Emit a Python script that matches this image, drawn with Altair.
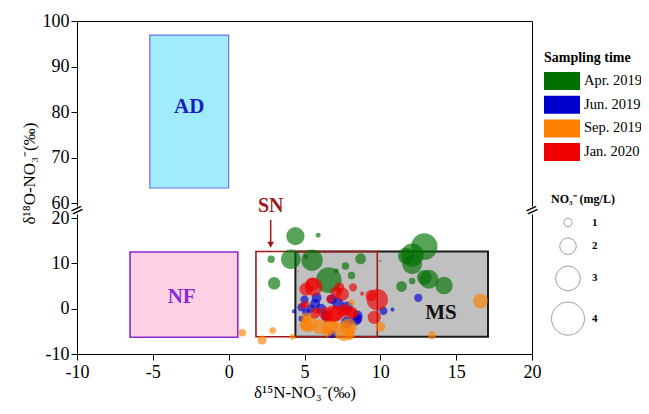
import altair as alt
import pandas as pd

FONT = "Liberation Serif"

# ---------------- data ----------------
season_order = ["Apr. 2019", "Jun. 2019", "Sep. 2019", "Jan. 2020"]
season_colors = ["#007000", "#0000cc", "#ff8000", "#ee0000"]

apr_x = [4.4, 5.9, 4.1, 5.5, 2.8, 5.1, 3.0, 6.6, 7.1, 7.7, 8.1, 8.7, 10.0, 12.9, 12.1, 11.7, 12.1, 13.2, 14.2, 11.4, 12.1, 12.9]
apr_y = [16.0, 16.2, 10.9, 10.7, 10.9, 11.4, 5.6, 6.3, 8.3, 9.4, 7.3, 11.0, 10.5, 13.7, 11.8, 11.6, 9.8, 6.5, 5.1, 4.9, 6.1, 6.9]
apr_c = [2.2, 0.6, 2.4, 2.6, 0.9, 0.6, 1.5, 3.1, 0.6, 0.9, 0.9, 1.3, 0.25, 3.2, 2.8, 2.0, 2.4, 2.3, 2.1, 1.3, 0.8, 1.8]

jun_x = [5.0, 5.7, 6.8, 5.4, 7.8, 8.5, 6.8, 10.8, 10.2, 12.5, 4.3, 4.8, 4.8, 5.8, 6.1, 7.8, 8.5, 8.4, 5.1, 7.2, 6.4]
jun_y = [2.0, 1.1, 2.1, 0.0, -3.0, -2.2, -5.6, -0.2, -0.5, 2.4, -0.6, -2.2, 0.3, 2.4, 0.0, 0.3, -1.5, -2.6, -0.8, 1.2, -1.6]
jun_c = [1.0, 1.2, 1.2, 1.0, 1.4, 1.2, 1.0, 0.5, 1.0, 1.0, 0.5, 0.7, 1.0, 1.2, 1.2, 1.4, 1.2, 1.2, 0.9, 1.4, 1.2]

sep_x = [0.9, 2.2, 2.9, 4.2, 5.3, 6.0, 6.7, 7.6, 7.9, 8.1, 10.0, 13.4, 16.6, 5.1, 6.5, 5.1, 6.9, 8.0]
sep_y = [-5.3, -6.9, -4.8, -6.2, -3.3, -4.0, -4.0, -5.0, -4.0, 1.3, -4.0, -5.9, 1.7, -2.0, -5.1, -3.7, -3.3, -5.8]
sep_c = [0.9, 1.1, 0.8, 0.7, 2.0, 1.8, 1.8, 2.4, 2.0, 0.8, 1.2, 1.0, 1.8, 1.2, 1.2, 1.5, 1.2, 1.2]

jan_x = [5.6, 7.3, 8.2, 9.8, 9.4, 9.6, 6.7, 6.4, 7.1, 7.7, 5.1, 5.1, 5.8, 8.1, 8.8, 4.6, 2.3, 7.1, 6.9, 7.6, 6.5, 5.7, 8.2, 4.9, 7.5, 5.5]
jan_y = [4.8, 4.7, 4.7, 2.0, 2.9, -1.9, 2.1, -1.1, -1.1, -0.4, 4.3, 0.9, -0.4, -0.8, 3.3, 8.3, 1.8, 3.6, -1.1, -0.4, -1.9, -1.1, -1.1, 0.7, 3.2, 5.4]
jan_c = [2.2, 1.2, 1.0, 2.6, 1.4, 1.6, 1.0, 1.6, 1.8, 1.2, 1.6, 0.8, 0.8, 1.4, 0.5, 0.15, 0.1, 1.4, 2.0, 1.6, 1.2, 1.2, 1.2, 0.8, 1.6, 1.6]

# source boxes
box_name = ["AD", "NF", "MS", "SN"]
box_x1 = [-5.2, -6.5, 4.4, 1.8]
box_x2 = [0.0, 0.6, 17.1, 9.8]
box_y1 = [63.3, -6.3, -6.2, -6.2]
box_y2 = [96.9, 12.5, 12.6, 12.6]
box_fill = ["#a0ecfd", "#fdd0e4", "#c0c0c0", "transparent"]
box_stroke = ["#6f6ff5", "#8a2ad0", "#1a1a1a", "#a01818"]
box_sw = [1.2, 1.6, 2.0, 1.6]

lab_text = ["AD", "NF", "MS"]
lab_x = [-2.6, -3.1, 14.0]
lab_y = [81.0, 2.5, -1.0]
lab_color = ["#1c1cc0", "#8a2ad0", "#111111"]

sn_x = [2.77]
arrow_y1 = [19.6]
arrow_y2 = [14.6]
arrow_head_y = [14.1]

break_x = [-10, 20]
break_y = [40, 40]

x_ticks = [-10, -5, 0, 5, 10, 15, 20]
y_ticks = [-10, 0, 10, 20, 60, 70, 80, 90, 100]
size_values = [1, 2, 3, 4]

# ---------------- tables ----------------
rows = []
for s, xs, ys, cs in zip(season_order,
                         [apr_x, jun_x, sep_x, jan_x],
                         [apr_y, jun_y, sep_y, jan_y],
                         [apr_c, jun_c, sep_c, jan_c]):
    for a, b, c in zip(xs, ys, cs):
        rows.append({"season": s, "x": a, "y": b, "no3": c, "idx": len(rows)})
pts = pd.DataFrame(rows)

boxes = pd.DataFrame({"name": box_name, "x": box_x1, "x2": box_x2, "y": box_y1, "y2": box_y2,
                      "fill": box_fill, "stroke": box_stroke, "sw": box_sw})
labels = pd.DataFrame({"t": lab_text, "x": lab_x, "y": lab_y, "c": lab_color})
sn = pd.DataFrame({"x": sn_x, "y": [20.0], "y1": arrow_y1, "y2": arrow_y2, "yh": arrow_head_y, "t": ["SN"]})
brk = pd.DataFrame({"x": break_x, "y": break_y})

# ---------------- scales/axes ----------------
xscale = alt.Scale(domain=[-10, 20], nice=False, zero=False)
yscale = alt.Scale(domain=[-10, 20, 60, 100], range=[333, 197, 182, 0], nice=False, zero=False)

xaxis = alt.Axis(title="δ¹⁵N-NO₃⁻(‰)", values=x_ticks, grid=False, tickSize=6, labelPadding=3,
                 labelFontSize=18, titleFontSize=17, titlePadding=3, labelFlush=False,
                 labelOverlap=False, labelExpr="'' + datum.value")
yaxis = alt.Axis(title="δ¹⁸O-NO₃⁻(‰)", values=y_ticks, grid=False, tickSize=6, labelPadding=2,
                 labelFontSize=18, titleFontSize=17, titlePadding=4, labelFlush=False,
                 labelOverlap=False, labelExpr="'' + datum.value", titleY=152)

X = alt.X("x:Q", scale=xscale, axis=xaxis)
Y = alt.Y("y:Q", scale=yscale, axis=yaxis)

box_layer = alt.Chart(boxes).mark_rect().encode(
    x=X, x2="x2:Q", y=Y, y2="y2:Q",
    fill=alt.Fill("fill:N", scale=None),
    stroke=alt.Stroke("stroke:N", scale=None),
    strokeWidth=alt.StrokeWidth("sw:Q", scale=None),
)

label_layer = alt.Chart(labels).mark_text(font=FONT, fontSize=21, fontWeight="bold").encode(
    x=X, y=Y, text="t:N", color=alt.Color("c:N", scale=None)
)

point_layer = alt.Chart(pts).mark_circle(opacity=0.65).encode(
    x=X, y=Y,
    color=alt.Color("season:N",
                    scale=alt.Scale(domain=season_order, range=season_colors),
                    sort=season_order,
                    legend=alt.Legend(title="Sampling time", orient="none", legendX=467, legendY=30,
                                      symbolType="M-1,-1H3V1H-1Z", symbolSize=324,
                                      symbolOpacity=1, symbolStrokeWidth=0,
                                      labelFont=FONT, labelFontSize=14.5, labelColor="black",
                                      labelOffset=22, rowPadding=5.7,
                                      titleFont=FONT, titleFontSize=14, titleFontWeight="bold",
                                      titleColor="black", titlePadding=7)),
    size=alt.Size("no3:Q",
                  scale=alt.Scale(type="pow", exponent=2, domain=[0, 4], range=[0, 1089]),
                  legend=alt.Legend(title="NO₃⁻ (mg/L)", orient="none", legendX=474, legendY=173,
                                    values=size_values, symbolType="circle",
                                    symbolFillColor="white", symbolStrokeColor="#a0a0a0",
                                    symbolStrokeWidth=1, symbolOpacity=1,
                                    labelFont=FONT, labelFontSize=11, labelFontWeight="bold",
                                    labelColor="black", labelOffset=7, rowPadding=6.2,
                                    titleFont=FONT, titleFontSize=12, titleFontWeight="bold",
                                    titleColor="black", titlePadding=11)),
    order=alt.Order("idx:Q"),
)

sn_rule = alt.Chart(sn).mark_rule(color="#a01818", strokeWidth=1.5).encode(
    x=X, y=alt.Y("y1:Q", scale=yscale, axis=yaxis), y2="y2:Q"
)
sn_head = alt.Chart(sn).mark_point(shape="triangle-down", filled=True, color="#a01818",
                                   size=45, opacity=1).encode(
    x=X, y=alt.Y("yh:Q", scale=yscale, axis=yaxis)
)
sn_text = alt.Chart(sn).mark_text(font=FONT, fontSize=20, fontWeight="bold", color="#a01818",
                                  dy=-12).encode(x=X, y=Y, text="t:N")

brk_white = alt.Chart(brk).mark_square(color="white", opacity=1, size=60, filled=True).encode(x=X, y=Y)
brk_mark = alt.Chart(brk).mark_text(text="=", font="DejaVu Sans", fontSize=17, angle=335,
                                    color="black").encode(x=X, y=Y)

chart = alt.layer(
    box_layer, label_layer, point_layer, sn_rule, sn_head, sn_text, brk_white, brk_mark
).properties(
    width=455, height=333,
    autosize=alt.AutoSizeParams(type="none"),
    padding={"left": 69, "top": 13, "right": 109, "bottom": 51},
).configure_view(
    stroke="black", strokeWidth=1
).configure_axis(
    labelFont=FONT, titleFont=FONT, labelColor="black", titleColor="black",
    domainColor="black", tickColor="black", titleFontWeight="normal"
)

chart.save("out.html", embed_options={"renderer": "svg", "actions": False})
